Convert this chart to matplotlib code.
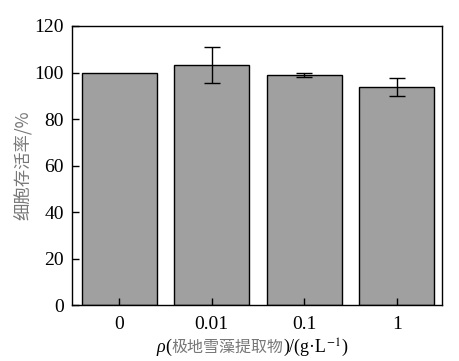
import matplotlib
matplotlib.use('Agg')
import matplotlib.pyplot as plt
from matplotlib.offsetbox import TextArea, HPacker, AnchoredOffsetbox

# data
concentrations = ['0', '0.01', '0.1', '1']
viability = [100, 103.2, 98.9, 93.7]
viability_err = [0, 7.9, 1.0, 3.8]
yticks = [0, 20, 40, 60, 80, 100, 120]

plt.rcParams['font.family'] = ['Liberation Serif', 'Noto Sans CJK SC']
plt.rcParams['mathtext.fontset'] = 'stix'

fig = plt.figure(figsize=(4.59, 3.61), dpi=100)
ax = fig.add_axes([0.157, 0.155, 0.806, 0.773])

x = range(len(concentrations))
ax.bar(x, viability, width=0.81, color='#a0a0a0', edgecolor='black', linewidth=1.0)
# no error bar on control
ax.errorbar(list(x)[1:], viability[1:], yerr=viability_err[1:], fmt='none',
            ecolor='black', elinewidth=1.0, capsize=6, capthick=1.0)

ax.set_xlim(-0.51, 3.49)
ax.set_ylim(0, 120)
ax.set_yticks(yticks)
ax.set_xticks(list(x))
ax.set_xticklabels(concentrations)
ax.tick_params(direction='in', labelsize=14, length=5, width=1, pad=6,
               top=False, right=False)
ax.tick_params(axis='x', pad=8)
for s in ax.spines.values():
    s.set_linewidth(1.0)

ax.set_ylabel('细胞存活率/%', color='#777777', fontsize=12.5,
              family=['Noto Sans CJK SC'], labelpad=0)
ax.yaxis.set_label_coords(-0.105, 0.5)

# x label: italic rho + CJK text + superscript, packed on one baseline
parts = [
    TextArea('ρ', textprops=dict(fontsize=13, style='italic', family=['Liberation Serif'])),
    TextArea('(', textprops=dict(fontsize=13, family=['Liberation Serif'])),
    TextArea('极地雪藻提取物', textprops=dict(fontsize=11.5, color='#777777', family=['Noto Sans CJK SC'])),
    TextArea(')/(g·L', textprops=dict(fontsize=13, family=['Liberation Serif'])),
    TextArea(r'$^{-1}$', textprops=dict(fontsize=12)),
    TextArea(')', textprops=dict(fontsize=13, family=['Liberation Serif'])),
]
box = HPacker(children=parts, align='baseline', pad=0, sep=0)
xlabel = AnchoredOffsetbox(loc='center', child=box, frameon=False, pad=0, borderpad=0,
                           bbox_to_anchor=(252 / 459, 1 - 347 / 361),
                           bbox_transform=fig.transFigure)
fig.add_artist(xlabel)

fig.savefig('out.png', dpi=100)
